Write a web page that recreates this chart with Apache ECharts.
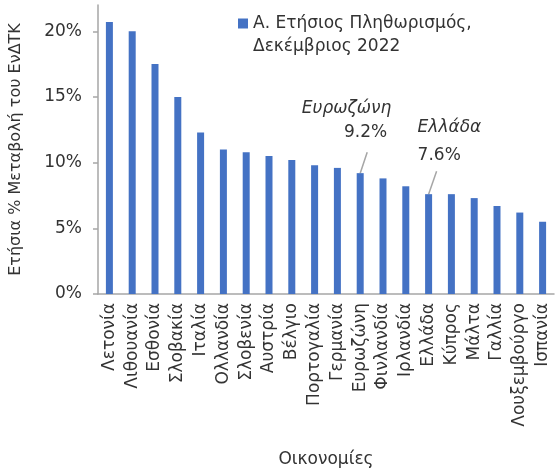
<!DOCTYPE html>
<html>
<head>
<meta charset="utf-8">
<script src="https://cdn.jsdelivr.net/npm/echarts@6/dist/echarts.min.js"></script>
<style>
html, body { margin: 0; padding: 0; background: #ffffff; }
#chart { width: 555px; height: 470px; }
</style>
</head>
<body>
<div id="chart"></div>
<script>
// Ετήσιος πληθωρισμός ΕνΔΤΚ, Δεκέμβριος 2022
var countries = ["Λετονία", "Λιθουανία", "Εσθονία", "Σλοβακία", "Ιταλία", "Ολλανδία", "Σλοβενία",
  "Αυστρία", "Βέλγιο", "Πορτογαλία", "Γερμανία", "Ευρωζώνη", "Φινλανδία", "Ιρλανδία",
  "Ελλάδα", "Κύπρος", "Μάλτα", "Γαλλία", "Λουξεμβούργο", "Ισπανία"];
var inflation = [20.7, 20.0, 17.5, 15.0, 12.3, 11.0, 10.8, 10.5, 10.2, 9.8, 9.6, 9.2, 8.8, 8.2,
  7.6, 7.6, 7.3, 6.7, 6.2, 5.5];
var yTicks = [0, 5, 10, 15, 20];
var seriesName = "Α. Ετήσιος Πληθωρισμός,\nΔεκέμβριος 2022";
var notes = ["Ευρωζώνη", "Ελλάδα"];

var font = "DejaVu Sans";
var txt = "#333333";
var grey = "#a6a6a6";

var chart = echarts.init(document.getElementById("chart"));

var option = {
  animation: false,
  textStyle: { fontFamily: font },
  legend: {
    data: [seriesName],
    left: 233,
    top: -16,
    icon: "rect",
    itemWidth: 10,
    itemHeight: 10,
    // κενή πρώτη γραμμή ώστε το τετράγωνο να στέκεται στην πρώτη γραμμή του κειμένου
    formatter: function (name) { return " \n" + name; },
    textStyle: {
      fontFamily: font,
      fontSize: 17,
      color: txt,
      lineHeight: 23
    }
  },
  grid: {
    left: 98,
    right: 1,
    top: 5,
    bottom: 176,
    outerBoundsMode: "none"
  },
  xAxis: {
    type: "category",
    data: countries,
    name: "Οικονομίες",
    nameLocation: "middle",
    nameGap: 157,
    nameMoveOverlap: false,
    nameTextStyle: { fontFamily: font, fontSize: 17, color: txt },
    axisLine: { lineStyle: { color: grey, width: 1.5 } },
    axisTick: { length: 5, lineStyle: { color: grey, width: 1.5 } },
    axisLabel: {
      rotate: 90,
      interval: 0,
      margin: 9,
      fontFamily: font,
      fontSize: 17,
      color: txt
    }
  },
  yAxis: {
    type: "value",
    min: 0,
    max: 22,
    name: "Ετήσια % Μεταβολή του ΕνΔΤΚ",
    nameLocation: "middle",
    nameGap: 74,
    nameMoveOverlap: false,
    nameTextStyle: { fontFamily: font, fontSize: 16, color: txt },
    axisLine: { show: true, lineStyle: { color: grey, width: 1.5 } },
    axisTick: { show: true, length: 5, customValues: yTicks, lineStyle: { color: grey, width: 1.5 } },
    splitLine: { show: false },
    axisLabel: {
      customValues: yTicks,
      margin: 16,
      fontFamily: font,
      fontSize: 17,
      color: txt,
      formatter: function (v) { return v + "%"; }
    }
  },
  series: [{
    name: seriesName,
    type: "bar",
    data: inflation,
    barWidth: 7,
    itemStyle: { color: "#4472c4" }
  }]
};

chart.setOption(option);

// σχόλια Ευρωζώνη / Ελλάδα, τοποθετημένα από τη θέση της μπάρας
function noteGraphics() {
  var out = [];
  notes.forEach(function (name) {
    var i = countries.indexOf(name);
    var p = chart.convertToPixel({ seriesIndex: 0 }, [name, inflation[i]]);
    var euro = name === "Ευρωζώνη";
    var lx = euro ? 7 : 8, ly = euro ? -21 : -23;
    out.push({
      type: "line",
      shape: { x1: p[0] + lx, y1: p[1] + ly, x2: p[0], y2: p[1] },
      style: { stroke: grey, lineWidth: 1.5 }
    });
    out.push({
      type: "text",
      x: euro ? p[0] + 31 : p[0] - 11,
      y: euro ? p[1] - 65 : p[1] - 67,
      style: {
        text: name, font: "italic 17px " + font, fill: txt,
        align: euro ? "right" : "left", verticalAlign: "middle"
      }
    });
    out.push({
      type: "text",
      x: euro ? p[0] + 27 : p[0] - 11,
      y: euro ? p[1] - 41 : p[1] - 39,
      style: {
        text: inflation[i].toFixed(1) + "%", font: "17px " + font, fill: txt,
        align: euro ? "right" : "left", verticalAlign: "middle"
      }
    });
  });
  return out;
}

chart.setOption({ graphic: noteGraphics() });
</script>
</body>
</html>
